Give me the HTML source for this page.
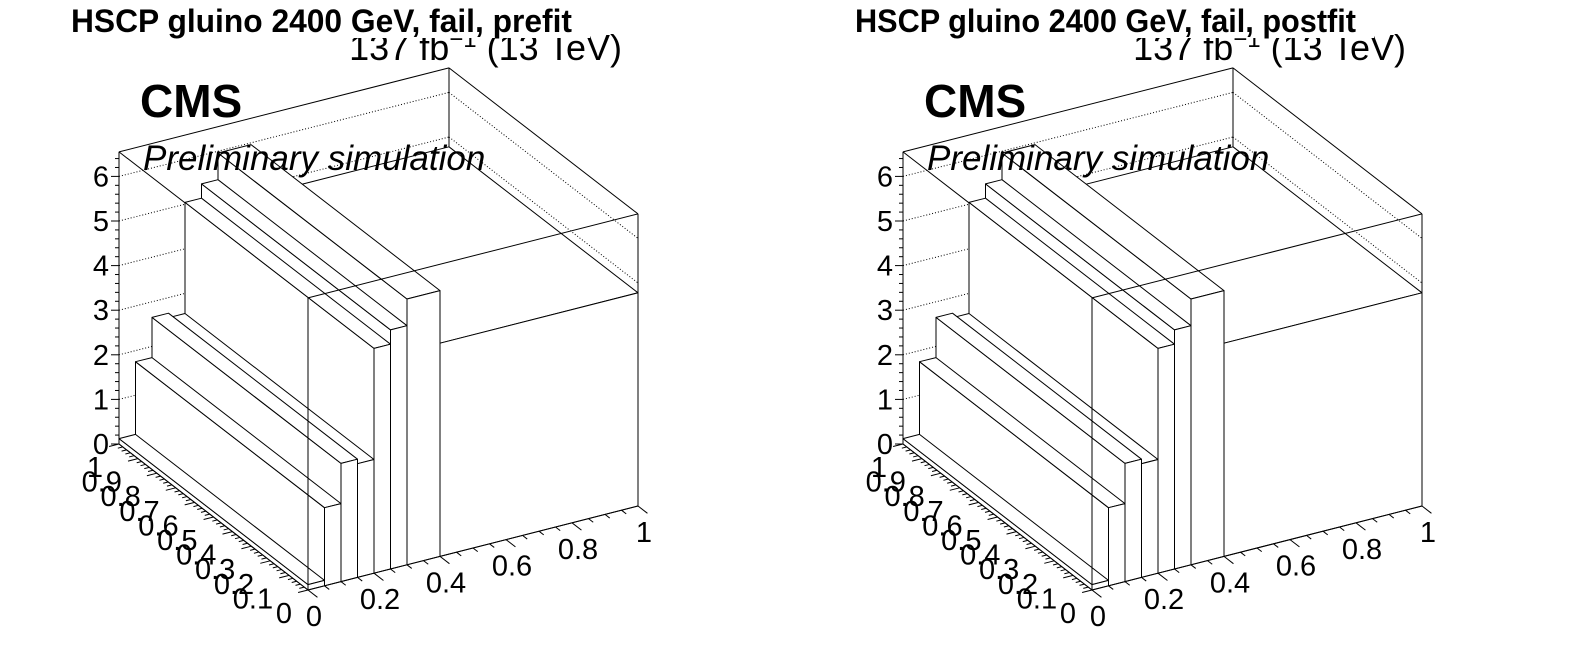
<!DOCTYPE html>
<html><head><meta charset="utf-8"><style>
html,body{margin:0;padding:0;background:#fff;}
svg{display:block;font-family:"Liberation Sans",sans-serif;}
</style></head><body>
<svg id="c" width="1592" height="672" viewBox="0 0 1592 672" xmlns="http://www.w3.org/2000/svg"></svg>
<script>
// bin edges along x axis and bar heights (same in both panels)
const xEdges = [0, 0.05, 0.1, 0.15, 0.2, 0.25, 0.3, 0.4, 1.0];
const prefitHeights = [0.12, 1.75, 2.65, 2.55, 5.04, 5.36, 5.96, 4.78];
const postfitHeights = [0.12, 1.75, 2.65, 2.55, 5.04, 5.36, 5.96, 4.78];
const zTicks = [0, 1, 2, 3, 4, 5, 6];
const zTickLabels = ["0", "1", "2", "3", "4", "5", "6"];
const yTicks = [0, 0.1, 0.2, 0.3, 0.4, 0.5, 0.6, 0.7, 0.8, 0.9, 1];
const yTickLabels = ["0", "0.1", "0.2", "0.3", "0.4", "0.5", "0.6", "0.7", "0.8", "0.9", "1"];
const xTicks = [0, 0.2, 0.4, 0.6, 0.8, 1];
const xTickLabels = ["0", "0.2", "0.4", "0.6", "0.8", "1"];
const zMax = 6.55;
const panelTitles = ["HSCP gluino 2400 GeV, fail, prefit", "HSCP gluino 2400 GeV, fail, postfit"];

const NS = "http://www.w3.org/2000/svg";
const svg = document.getElementById('c');
function mk(tag, attrs, parent) {
  const e = document.createElementNS(NS, tag);
  for (const k in attrs) e.setAttribute(k, attrs[k]);
  (parent || svg).appendChild(e);
  return e;
}

function drawPanel(dx, title, heights, key) {
  const g = mk('g', {});
  
  
  const O = [308 + dx, 590], X = [330, -84], Y = [-189, -146], K = 44.6;
  const P = (x, y, z) => [O[0] + x * X[0] + y * Y[0], O[1] + x * X[1] + y * Y[1] - z * K];
  const pts = a => a.map(p => p[0].toFixed(1) + ',' + p[1].toFixed(1)).join(' ');
  const line = (a, b, extra, name) => {
    const l = mk('line', Object.assign({x1: a[0], y1: a[1], x2: b[0], y2: b[1], stroke: '#000', 'stroke-width': 1}, extra || {}), g);
    
    
    return l;
  };
  line(P(0,1,0), P(0,1,zMax), {}, 'box-edge');
  line(P(1,1,0), P(1,1,zMax), {}, 'box-edge');
  line(P(1,0,0), P(1,0,zMax), {}, 'box-edge');
  line(P(0,1,zMax), P(1,1,zMax), {}, 'box-edge');
  line(P(1,1,zMax), P(1,0,zMax), {}, 'box-edge');
  line(P(0,1,zMax), P(0,0,zMax), {}, 'box-edge');
  for (let i = 1; i < zTicks.length; i++) {
    const z = zTicks[i];
    line(P(0,1,z), P(1,1,z), {'stroke-dasharray': '1,2'}, 'z-grid-line');
    line(P(1,1,z), P(1,0,z), {'stroke-dasharray': '1,2'}, 'z-grid-line');
  }
  for (let i = heights.length - 1; i >= 0; i--) {
    const x0 = xEdges[i], x1 = xEdges[i+1], h = heights[i];
    const bg = mk('g', {fill: '#fff', stroke: '#000', 'stroke-width': 1, 'stroke-linejoin': 'round'}, g);
    
    
    mk('polygon', {points: pts([P(x0,0,0), P(x0,1,0), P(x0,1,h), P(x0,0,h)])}, bg);
    mk('polygon', {points: pts([P(x0,0,h), P(x0,1,h), P(x1,1,h), P(x1,0,h)])}, bg);
    mk('polygon', {points: pts([P(x0,0,0), P(x1,0,0), P(x1,0,h), P(x0,0,h)])}, bg);
  }
  line(P(0,0,0), P(0,0,zMax), {}, 'box-edge');
  line(P(0,0,zMax), P(1,0,zMax), {}, 'box-edge');
  line(P(0,0,0), P(1,0,0), {}, 'x-axis-line');
  line(P(0,0,0), P(0,1,0), {}, 'y-axis-line');
  line(P(0,1,0), P(0,1,zMax), {}, 'z-axis-line');
  for (let z = 0; z <= zMax + 1e-9; z += 0.2) {
    const p = P(0,1,z);
    const major = Math.abs(z - Math.round(z)) < 1e-6;
    line(p, [p[0] - (major ? 8 : 4), p[1]], {}, 'z-tick');
  }
  zTicks.forEach((z, i) => {
    const p = P(0,1,z);
    const t = mk('text', {x: p[0] - 10, y: p[1] + 10, 'font-size': 29, 'text-anchor': 'end'}, g);
    t.textContent = zTickLabels[i];
    
    
  });
  for (let k = 0; k <= 50; k++) {
    const y = k / 50, p = P(0,y,0), major = k % 5 === 0;
    const L = major ? 0.03 : 0.015;
    line(p, [p[0] - X[0]*L, p[1] - X[1]*L], {}, 'y-tick');
  }
  yTicks.forEach((y, i) => {
    const p = P(0,y,0);
    const t = mk('text', {x: p[0] - 16, y: p[1] + 33, 'font-size': 29, 'text-anchor': 'end'}, g);
    t.textContent = yTickLabels[i];
    
    
  });
  for (let k = 0; k <= 20; k++) {
    const x = k / 20, p = P(x,0,0), major = k % 4 === 0;
    const L = major ? 0.05 : 0.025;
    line(p, [p[0] - Y[0]*L, p[1] - Y[1]*L], {}, 'x-tick');
  }
  xTicks.forEach((x, i) => {
    const p = P(x,0,0);
    const t = mk('text', {x: p[0] + 6, y: p[1] + 36, 'font-size': 29, 'text-anchor': 'middle'}, g);
    t.textContent = xTickLabels[i];
    
    
  });
  const cms = mk('text', {x: 140 + dx, y: 117, 'font-size': 46, 'font-weight': 'bold'}, g);
  cms.textContent = 'CMS';
  
  
  const pre = mk('text', {x: 143 + dx, y: 170, 'font-size': 35, 'font-style': 'italic'}, g);
  pre.textContent = 'Preliminary simulation';
  
  
  const lumi = mk('text', {x: 622 + dx, y: 60, 'font-size': 36, 'text-anchor': 'end'}, g);
  lumi.innerHTML = '137 fb<tspan dy="-13" font-size="24">−1</tspan><tspan dy="13"> (13 TeV)</tspan>';
  
  
  const cover = mk('rect', {x: 60 + dx, y: 0, width: 530, height: 38, fill: '#fff'}, g);
  
  
  const tt = mk('text', {x: 71 + dx, y: 32, 'font-size': 32, 'font-weight': 'bold', textLength: 501, lengthAdjust: 'spacingAndGlyphs'}, g);
  tt.textContent = title;
  
  
}
drawPanel(0, panelTitles[0], prefitHeights, 'prefit');
drawPanel(784, panelTitles[1], postfitHeights, 'postfit');
</script>
</body></html>
